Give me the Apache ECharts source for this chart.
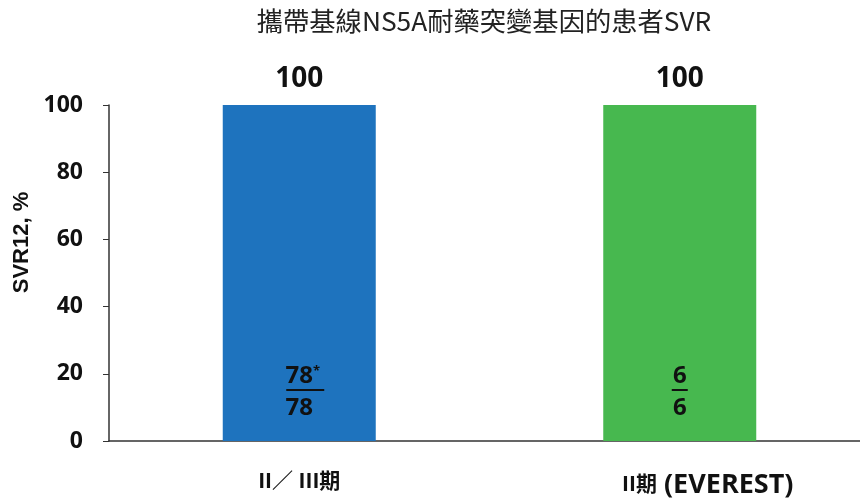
<!DOCTYPE html>
<html><head><meta charset="utf-8">
<script src="https://cdn.jsdelivr.net/npm/echarts@6/dist/echarts.min.js"></script>
<style>html,body{margin:0;padding:0;background:#fff;overflow:hidden;width:860px;height:499px}#c{width:870px;height:499px}</style>
</head><body><div id="c"></div>
<script>
const categories = ['II／ III期', 'II期 (EVEREST)'];
const categoryMain = ['II／ III期', 'II期'];
const categoryNote = ['', '(EVEREST)'];
const svrValues = [100, 100];
const numerators = ['78', '6'];
const numeratorMarks = ['*', ''];
const denominators = ['78', '6'];
const barColors = ['#1E73BE', '#47B84F'];
const yTicks = [0, 20, 40, 60, 80, 100];

const chart = echarts.init(document.getElementById('c'));
const font = '"Open Sans", "Noto Sans CJK TC", sans-serif';
const ink = '#111';
chart.setOption({
  animation: false,
  title: {
    text: '攜帶基線NS5A耐藥突變基因的患者SVR',
    left: 479, top: 3, textAlign: 'center',
    textStyle: { fontFamily: '"Noto Sans CJK TC", sans-serif', fontSize: 26.3, fontWeight: 'normal', color: '#222' }
  },
  grid: { left: 109, top: 105, right: 0, bottom: 58 },
  xAxis: {
    type: 'category', data: categories,
    axisLine: { lineStyle: { color: '#333', width: 1.5 } },
    axisTick: { show: false },
    axisLabel: {
      margin: 31, interval: 0,
      formatter: (v, i) => {
        const note = categoryNote[i];
        return note ? '{pad|}{m|' + categoryMain[i] + '}{e| ' + note + '}' : '{m|' + categoryMain[i] + '}';
      },
      rich: {
        m: { fontSize: 21, fontWeight: 'bold', color: ink, fontFamily: font, verticalAlign: 'middle' },
        e: { fontSize: 27, fontWeight: 'bold', color: ink, fontFamily: font, verticalAlign: 'middle' },
        pad: { width: 56 }
      }
    }
  },
  yAxis: {
    type: 'value', min: 0, max: 100, interval: 20,
    name: 'SVR12, %', nameLocation: 'middle', nameGap: 59, nameRotate: 90,
    nameTextStyle: { fontSize: 22, fontWeight: 'bold', color: ink, fontFamily: '"Liberation Sans", Arial, sans-serif', padding: [0, 0, 0, 61] },
    axisLine: { show: true, lineStyle: { color: '#333', width: 1.5 } },
    axisTick: { show: true, length: 6, lineStyle: { color: '#333' } },
    splitLine: { show: false },
    axisLabel: { margin: 26, fontSize: 23, fontWeight: 'bold', color: ink, fontFamily: font,
      formatter: v => yTicks.includes(v) ? String(v) : '' }
  },
  series: [
    {
      type: 'bar', barWidth: 153,
      data: svrValues.map((v, i) => ({ value: v, itemStyle: { color: barColors[i] } })),
      label: { show: true, position: 'top', distance: 12, fontSize: 28, fontWeight: 'bold', color: ink, fontFamily: font }
    },
    {
      type: 'bar', barWidth: 153, barGap: '-100%',
      data: svrValues.map(v => ({ value: v, itemStyle: { color: 'transparent' } })),
      silent: true, z: 5,
      label: {
        show: true, position: 'insideBottom', distance: 18,
        formatter: p => {
          const i = p.dataIndex;
          const mark = numeratorMarks[i];
          const top = (mark ? '{h|' + mark + '}' : '') + '{n|' + numerators[i] + '}' + (mark ? '{s|' + mark + '}' : '');
          const line = mark ? '{sp|}{lw|}' : '{ln|}';
          return top + '\n' + line + '\n{d|' + denominators[i] + '}';
        },
        rich: {
          n: { fontSize: 24, fontWeight: 'bold', color: ink, fontFamily: font, lineHeight: 22 },
          s: { fontSize: 13, fontWeight: 'bold', color: ink, fontFamily: font, verticalAlign: 'top', lineHeight: 22 },
          h: { fontSize: 13, fontWeight: 'bold', color: 'transparent', fontFamily: font, lineHeight: 22 },
          sp: { width: 12, height: 2, lineHeight: 6 },
          lw: { backgroundColor: ink, height: 2, width: 38, lineHeight: 6 },
          ln: { backgroundColor: ink, height: 2, width: 16, lineHeight: 6 },
          d: { fontSize: 24, fontWeight: 'bold', color: ink, fontFamily: font, lineHeight: 30 }
        }
      }
    }
  ]
});
</script></body></html>
